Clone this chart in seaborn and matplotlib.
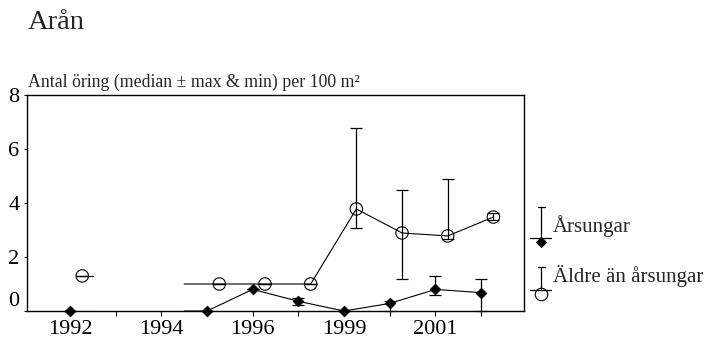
import matplotlib
matplotlib.use("Agg")
import matplotlib.pyplot as plt
from matplotlib.lines import Line2D
from matplotlib.transforms import Affine2D
import numpy as np
import pandas as pd
import seaborn as sns

# ---------------- data ----------------
sample_pos = [0, 3, 4, 5, 6, 7, 8, 9]          # survey index along x axis
tick_pos = [0, 2, 4, 6, 8]
tick_labels = ["1992", "1994", "1996", "1999", "2001"]

ars_median = [0.0, 0.0, 0.80, 0.36, 0.0, 0.28, 0.80, 0.68]
ars_max = [0.0, 0.0, 0.80, 0.49, 0.0, 0.36, 1.30, 1.17]
ars_min = [0.0, 0.0, 0.80, 0.22, 0.0, 0.0, 0.59, 0.0]

ald_median = [1.30, 1.0, 1.0, 1.0, 3.78, 2.89, 2.78, 3.48]
ald_max = [1.30, 1.0, 1.0, 1.0, 6.78, 4.48, 4.89, 3.62]
ald_min = [1.30, 1.0, 1.0, 1.0, 3.07, 1.18, 2.65, 3.38]

series_names = ["Årsungar", "Äldre än årsungar"]
title = "Arån"
subtitle = "Antal öring (median ± max & min) per 100 m²"

# ---------------- style ----------------
sns.set_theme(style="ticks")
plt.rcParams["font.family"] = ["Liberation Serif", "DejaVu Serif"]
plt.rcParams["axes.linewidth"] = 1.0

W, H = 704, 339
fig = plt.figure(figsize=(W / 100, H / 100), dpi=100)
fig.patch.set_facecolor("white")
ax = fig.add_axes([27 / W, 1 - 311 / H, (524 - 27) / W, (311 - 95) / H])
ax.set_facecolor("white")

SHIFT = 0.27  # horizontal offset of the second series


def line_frame(pos, vals, shift):
    rows = []
    seg = 0
    for i, (p, v) in enumerate(zip(pos, vals)):
        if i > 0 and p - pos[i - 1] > 1:
            rows.append((pos[i - 1] + 0.5, vals[i - 1], seg))
            seg += 1
            rows.append((p - 0.5, v, seg))
        rows.append((p + shift, v, seg))
    return pd.DataFrame(rows, columns=["x", "y", "seg"])


df_a = pd.DataFrame({"x": np.array(sample_pos, float), "y": ars_median,
                     "lo": ars_min, "hi": ars_max})
df_b = pd.DataFrame({"x": np.array(sample_pos, float) + SHIFT, "y": ald_median,
                     "lo": ald_min, "hi": ald_max})

for pos_vals, shift in [(ars_median, 0.0), (ald_median, SHIFT)]:
    lf = line_frame(sample_pos, pos_vals, shift)
    sns.lineplot(data=lf, x="x", y="y", units="seg", estimator=None,
                 color="black", linewidth=0.8, ax=ax, legend=False)

for d in (df_a, df_b):
    ax.errorbar(d["x"], d["y"], yerr=[d["y"] - d["lo"], d["hi"] - d["y"]],
                fmt="none", ecolor="black", elinewidth=0.9, capsize=4.5,
                capthick=0.9, clip_on=False, zorder=3)

sns.scatterplot(data=df_a, x="x", y="y", marker="D", s=30, color="black",
                edgecolor="black", linewidth=0.5, ax=ax, legend=False,
                clip_on=False, zorder=4)
sns.scatterplot(data=df_b, x="x", y="y", marker="o", s=80, facecolor="none",
                edgecolor="black", linewidth=0.8, ax=ax, legend=False,
                clip_on=False, zorder=4)

ax.set_xlim(-0.94, 9.94)
ax.set_ylim(0, 8)
all_ticks = list(range(0, 10))
ax.set_xticks(all_ticks)
ax.set_xticklabels([tick_labels[tick_pos.index(t)] if t in tick_pos else ""
                    for t in all_ticks])
ax.set_yticks([0, 2, 4, 6, 8])
ax.set_yticklabels(["0", "2", "4", "6", "8"])
ax.tick_params(axis="x", direction="out", length=3.5, width=0.8, pad=3,
               labelsize=16, color="black", labelcolor="black")
ax.tick_params(axis="y", direction="out", length=2.5, width=0.8, pad=3,
               labelsize=16, color="black", labelcolor="black")
ax.get_yticklabels()[0].set_va("bottom")
ax.set_xlabel("")
ax.set_ylabel("")
for s in ax.spines.values():
    s.set_visible(True)
    s.set_color("black")
    s.set_linewidth(1.0)

# ---------------- texts ----------------
fig.text(28 / W, 1 - 29 / H, title, fontsize=20.5, va="baseline", ha="left")
fig.text(28 / W, 1 - 87 / H, subtitle, fontsize=12.8, va="baseline", ha="left")

# ---------------- legend (manual, right side) ----------------
T = Affine2D().scale(1 / W, -1 / H).translate(0, 1) + fig.transFigure


def legend_key(y_cap, y_bar, y_marker, marker, face, ms):
    fig.add_artist(Line2D([541, 541], [y_cap, y_bar], color="black", lw=0.9, transform=T))
    fig.add_artist(Line2D([537.5, 544.5], [y_cap, y_cap], color="black", lw=0.9, transform=T))
    fig.add_artist(Line2D([530, 551], [y_bar, y_bar], color="black", lw=0.9, transform=T))
    fig.add_artist(Line2D([541], [y_marker], marker=marker, markersize=ms,
                          markerfacecolor=face, markeredgecolor="black",
                          markeredgewidth=0.8, linestyle="none", transform=T))


legend_key(207, 238, 242, "D", "black", 5.0)
legend_key(267, 290, 294, "o", "none", 9.0)
fig.text(553 / W, 1 - 232 / H, series_names[0], fontsize=15, va="baseline", ha="left")
fig.text(553 / W, 1 - 282 / H, series_names[1], fontsize=15, va="baseline", ha="left")

fig.savefig("out.png", dpi=100)
